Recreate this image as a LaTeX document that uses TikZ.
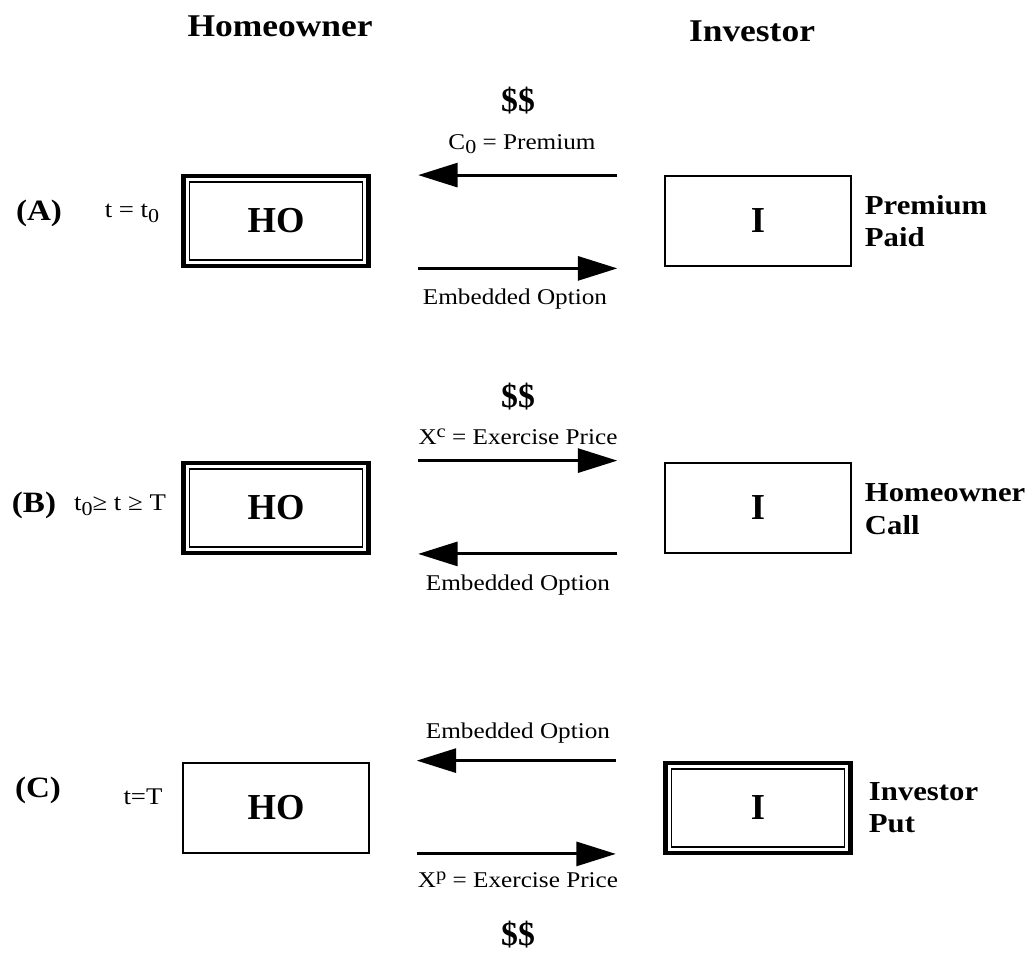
\documentclass[tikz,border=0pt]{standalone}
\usepackage{fontspec}
\setmainfont{Liberation Serif}[FakeStretch=1.12]
\newfontfamily\boxfont{Liberation Serif}
\usetikzlibrary{arrows.meta}
\newcommand\dn[1]{\raisebox{-0.45ex}{\fontsize{14}{16}\selectfont #1}}
\newcommand\up[1]{\raisebox{0.65ex}{\fontsize{13}{15}\selectfont #1}}

\begin{document}
\begin{tikzpicture}[x=0.025cm, y=-0.025cm,
  box/.style = {draw, line width=1.3pt, minimum width=132pt,
        minimum height=64pt, inner sep=0pt,
        font=\boxfont\fontsize{26}{30}\selectfont\bfseries},
  dbox/.style = {box, line width=3.4pt},
  innerline/.style = {draw, line width=1pt},
  head/.style = {font=\fontsize{22.5}{27}\selectfont\bfseries},
  lbl/.style = {font=\fontsize{16}{19}\selectfont, inner sep=0pt},
  cash/.style = {font=\boxfont\fontsize{24}{28}\selectfont\bfseries},
  case/.style = {font=\fontsize{21}{25}\selectfont\bfseries},
  when/.style = {font=\fontsize{17}{20}\selectfont},
  role/.style = {font=\fontsize{19.5}{23}\selectfont\bfseries,
        align=left, anchor=west},
  flow/.style = {line width=2.2pt, shorten <=33.4pt, shorten >=33.4pt,
        -{Triangle[length=28pt,width=17pt]}}]
 \useasboundingbox (0,0) rectangle (1032,953);

 \node[head] (hhead) at (280,26) {Homeowner};
 \node[head] (ihead) at (752,31) {Investor};

 % the two parties, one row per case
 \node[dbox] (hoA) at (276,221) {HO};
 \node[box]  (iA)  at (758,221) {I};
 \node[dbox] (hoB) at (276,508) {HO};
 \node[box]  (iB)  at (758,508) {I};
 \node[box]  (hoC) at (276,808) {HO};
 \node[dbox] (iC)  at (758,808) {I};
 \foreach \n in {hoA,hoB,iC}
   \draw[innerline] ([shift={(6pt,-6pt)}]\n.north west) rectangle
                    ([shift={(-6pt,6pt)}]\n.south east);

 % (A)
 \node[case] (caseA) at (39,213)  {(A)};
 \node[when] (timeA) at (132,213) {t = t\dn{0}};
 \node[cash] (cashA) at (518,101) {\$\$};
 \node[lbl]  (premA) at (522,144) {C\dn{0} = Premium};
 \node[lbl]  (optA)  at (515,299) {Embedded Option};
 \node[role] (roleA) at (860,221) {Premium\\Paid};

 % (B)
 \node[case] (caseB) at (34,505)  {(B)};
 \node[when] (timeB) at (120,505) {t\dn{0}≥ t ≥ T};
 \node[cash] (cashB) at (518,397) {\$\$};
 \node[lbl]  (exB)   at (518,437) {X\up{c} = Exercise Price};
 \node[lbl]  (optB)  at (518,585) {Embedded Option};
 \node[role] (roleB) at (860,509) {Homeowner\\Call};

 % (C)
 \node[case] (caseC) at (38,790)  {(C)};
 \node[when] (timeC) at (143,797) {t=T};
 \node[lbl]  (optC)  at (518,733) {Embedded Option};
 \node[lbl]  (exC)   at (518,880) {X\up{p} = Exercise Price};
 \node[cash] (cashC) at (518,935) {\$\$};
 \node[role] (roleC) at (864,808) {Investor\\Put};

 \begin{scope}[flow]
  \draw (iA.north west)  -- (iA.north west -| hoA.east);
  \draw (hoA.south east) -- (hoA.south east -| iA.west);
  \draw (hoB.north east) -- (hoB.north east -| iB.west);
  \draw (iB.south west)  -- (iB.south west -| hoB.east);
  \draw (iC.north west)  -- (iC.north west -| hoC.east);
  \draw (hoC.south east) -- (hoC.south east -| iC.west);
 \end{scope}
\end{tikzpicture}
\end{document}
